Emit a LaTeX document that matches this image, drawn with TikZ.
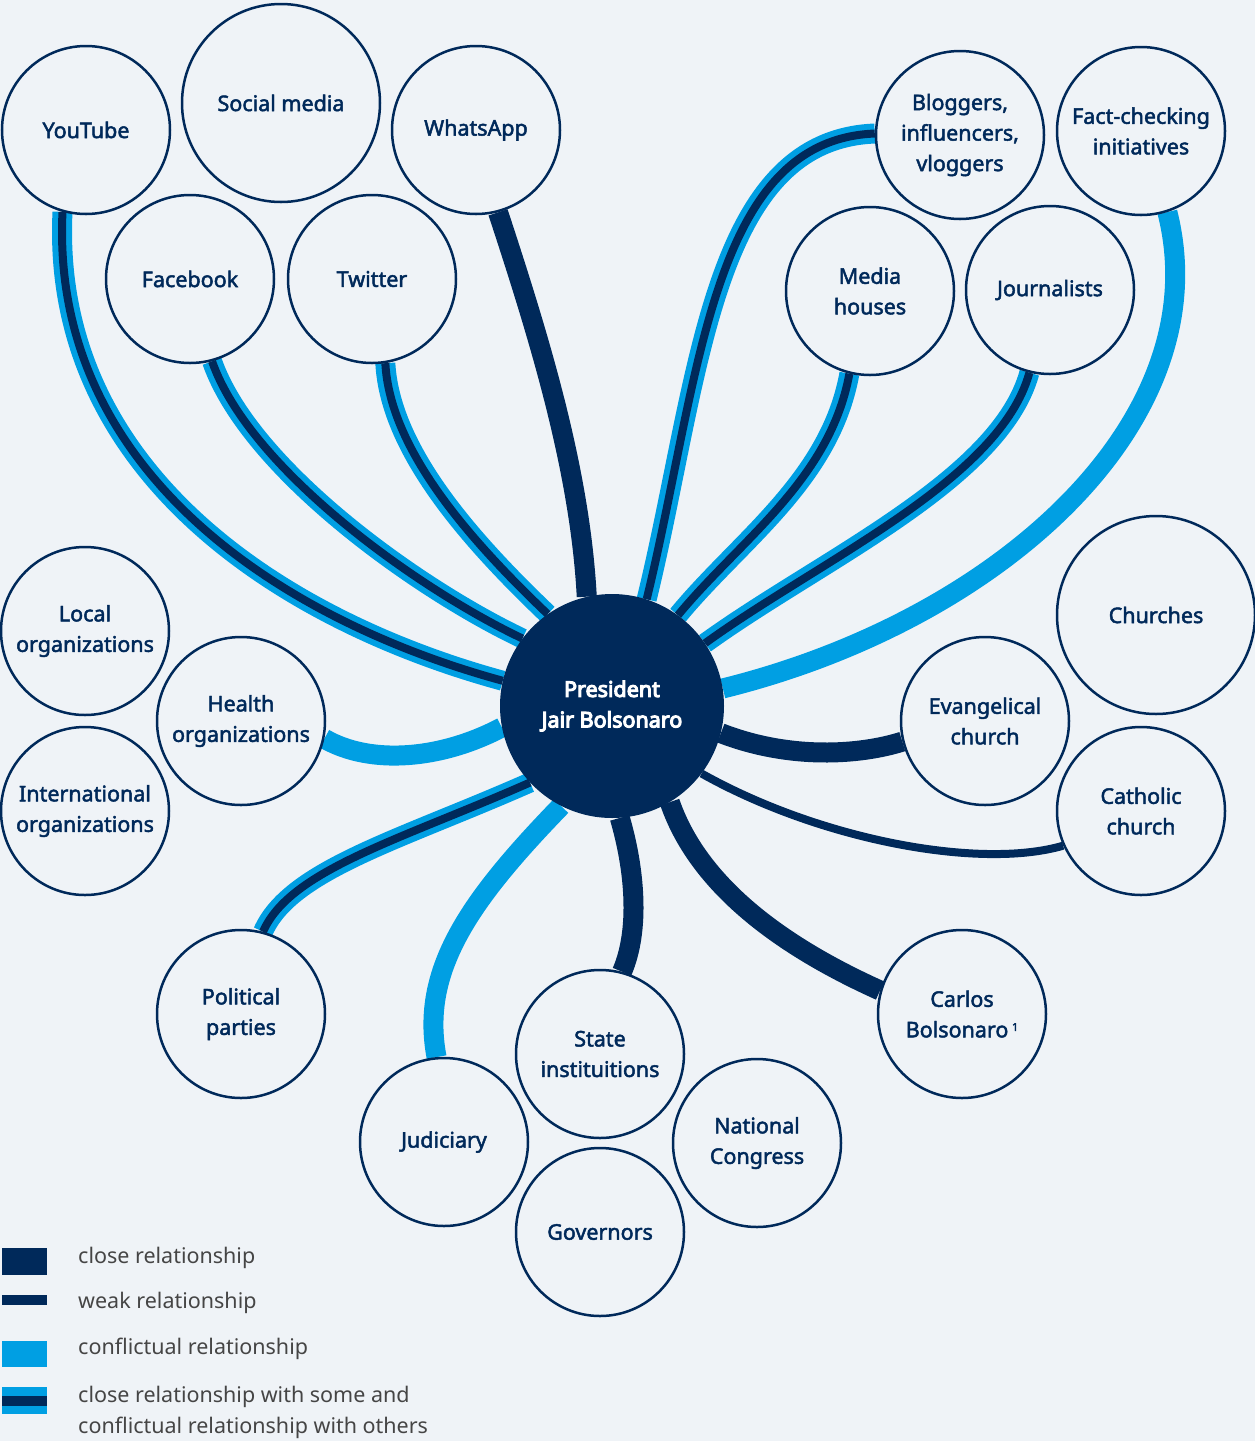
\documentclass[tikz,border=0pt]{standalone}
\usepackage{fontspec}
\setmainfont{Noto Sans}
\newfontfamily\nodefont{Noto Sans}[RawFeature={embolden=2.2}]
\newfontfamily\hubfont{Noto Sans}[RawFeature={embolden=5}]
\pgfdeclarelayer{bgrect}
\pgfdeclarelayer{lines}
\pgfsetlayers{bgrect,lines,main}
\definecolor{navy}{HTML}{00295A}
\definecolor{cblue}{HTML}{009FE3}
\definecolor{bgc}{HTML}{EFF3F7}
\definecolor{legtext}{HTML}{454545}
\tikzset{
  circ/.style={circle, draw=navy, line width=2.5pt, fill=bgc, text=navy, align=center, minimum size=168pt, inner sep=0pt, font=\nodefont\fontsize{21.5}{30.5}\selectfont},
  bigcirc/.style={circ, minimum size=198pt},
  hub/.style={circle, fill=navy, text=white, align=center, minimum size=224pt, inner sep=0pt, font=\hubfont\fontsize{21.5}{30.5}\selectfont},
  close/.style={draw=navy, line width=20pt},
  weak/.style={draw=navy, line width=8pt},
  conflict/.style={draw=cblue, line width=20pt},
  mixed/.style={draw=cblue, double=navy, line width=6pt, double distance=8pt},
  legend/.style={anchor=west, text=legtext, align=left, inner sep=0pt, font=\fontsize{21.5}{31}\selectfont}
}
\begin{document}
\begin{tikzpicture}[x=1pt, y=-1pt]
\begin{pgfonlayer}{bgrect}
\fill[bgc] (0,0) rectangle (1255,1441);
\end{pgfonlayer}
\useasboundingbox (0,0) rectangle (1255,1441);

\node[hub] (c) at (612,706) {President\\Jair Bolsonaro};

\node[circ] (yt) at (86,130) {YouTube};
\node[bigcirc] (sm) at (281,103) {Social media};
\node[circ] (wa) at (476,130) {WhatsApp};
\node[circ] (fb) at (190,279) {Facebook};
\node[circ] (tw) at (372,279) {Twitter};
\node[circ] (bl) at (960,135) {Bloggers,\\influencers,\\vloggers};
\node[circ] (fc) at (1141,131) {Fact-checking\\initiatives};
\node[circ] (mh) at (870,291) {Media\\houses};
\node[circ] (jo) at (1050,290) {Journalists};
\node[bigcirc] (ch) at (1156,615) {Churches};
\node[circ] (ev) at (985,721) {Evangelical\\church};
\node[circ] (ca) at (1141,811) {Catholic\\church};
\node[circ] (lo) at (85,631) {Local\\organizations};
\node[circ] (he) at (241,721) {Health\\organizations};
\node[circ] (io) at (85,811) {International\\organizations};
\node[circ] (pp) at (241,1014) {Political\\parties};
\node[circ] (st) at (600,1054) {State\\instituitions};
\node[circ] (ju) at (444,1142) {Judiciary};
\node[circ] (nc) at (757,1143) {National\\Congress};
\node[circ] (gv) at (600,1232) {Governors};
\node[circ] (cb) at (962,1014) {Carlos\\Bolsonaro\,\raisebox{0.55ex}{\fontsize{11}{11}\selectfont 1}};

\begin{pgfonlayer}{lines}
\draw[mixed] (c.167) .. controls (280,620) and (50,470) .. (yt.-106);
\draw[mixed] (c.143) .. controls (420,590) and (250,470) .. (fb.-75);
\draw[mixed] (c.125) .. controls (470,540) and (390,450) .. (tw.-81);
\draw[close] (c.103) .. controls (580,470) and (540,340) .. (wa.-75);
\draw[mixed] (c.72) .. controls (700,380) and (710,140) .. (bl.179);
\draw[mixed] (c.54) .. controls (740,540) and (830,480) .. (mh.-104);
\draw[mixed] (c.34) .. controls (820,560) and (1000,480) .. (jo.-104);
\draw[conflict] (c.9) .. controls (1000,620) and (1220,420) .. (fc.-72);
\draw[close] (c.-14) .. controls (790,760) and (860,755) .. (ev.-166);
\draw[weak] (c.-37) .. controls (820,840) and (980,870) .. (ca.-156);
\draw[close] (c.-59) .. controls (700,890) and (790,950) .. (cb.164);
\draw[close] (c.-86) .. controls (635,870) and (640,930) .. (st.75);
\draw[conflict] (c.-117) .. controls (470,900) and (420,970) .. (ju.95);
\draw[mixed] (c.-137) .. controls (400,840) and (290,870) .. (pp.75);
\draw[conflict] (c.-169) .. controls (440,760) and (370,765) .. (he.-12);
\end{pgfonlayer}

% legend
\fill[navy] (2,1248) rectangle (47,1275);
\fill[navy] (2,1295) rectangle (47,1305);
\fill[cblue] (2,1341) rectangle (47,1367);
\fill[cblue] (2,1387) rectangle (47,1414);
\fill[navy] (2,1396) rectangle (47,1406);
\node[legend] (l1) at (78,1258) {close relationship};
\node[legend] (l2) at (78,1303) {weak relationship};
\node[legend] (l3) at (78,1349) {conflictual relationship};
\node[legend] (l4) at (78,1412) {close relationship with some and\\conflictual relationship with others};
\end{tikzpicture}
\end{document}
